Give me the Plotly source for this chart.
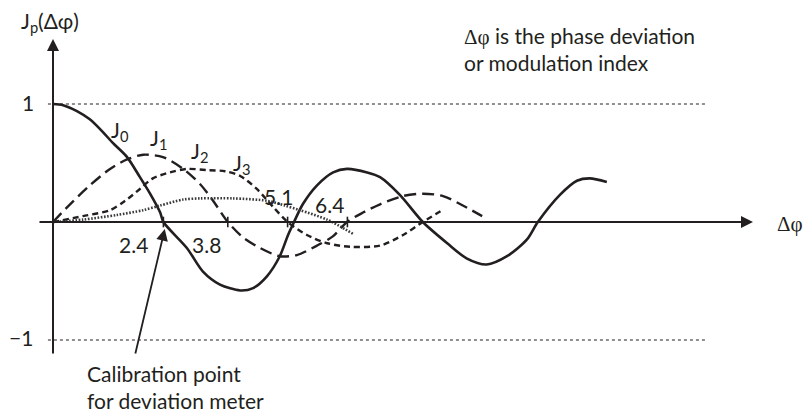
import plotly.graph_objects as go

# Bessel functions of the first kind J0..J3 versus phase deviation
j0_x = [0, 0.22, 0.52, 0.80, 1.09, 1.30, 1.61, 1.89, 2.11, 2.33, 2.4, 2.91, 3.26, 3.63,
        4.07, 4.35, 4.65, 4.93, 5.11, 5.24, 5.43, 5.74, 6.09, 6.39, 6.83, 7.11, 7.54,
        8.04, 8.57, 9.00, 9.43, 9.87, 10.30, 10.54, 11.02, 11.39, 11.67, 12.04]
j0_y = [1.0, 0.99, 0.94, 0.87, 0.76, 0.67, 0.55, 0.38, 0.24, 0.08, 0.0, -0.22, -0.42,
        -0.53, -0.58, -0.56, -0.46, -0.29, -0.11, 0.0, 0.15, 0.31, 0.42, 0.45, 0.42,
        0.38, 0.23, 0.0, -0.18, -0.31, -0.36, -0.29, -0.15, 0.0, 0.23, 0.35, 0.37, 0.34]

j1_x = [0, 0.37, 0.80, 1.24, 1.61, 1.96, 2.39, 2.83, 3.20, 3.48, 3.8, 4.13, 4.50, 4.93,
        5.30, 5.74, 6.09, 6.39, 6.74, 7.11, 7.61, 8.04, 8.48, 8.91, 9.33]
j1_y = [0, 0.15, 0.31, 0.45, 0.53, 0.57, 0.55, 0.45, 0.32, 0.18, 0.0, -0.13, -0.22, -0.29,
        -0.28, -0.20, -0.12, 0.0, 0.08, 0.15, 0.22, 0.24, 0.22, 0.14, 0.05]

j2_x = [0, 0.65, 1.24, 1.57, 1.89, 2.17, 2.54, 2.91, 3.35, 3.74, 4.07, 4.43, 4.78, 5.1,
        5.52, 5.96, 6.46, 7.11, 7.61, 8.04, 8.46]
j2_y = [0, 0.05, 0.10, 0.18, 0.28, 0.37, 0.42, 0.45, 0.44, 0.43, 0.39, 0.28, 0.13, 0.0,
        -0.11, -0.18, -0.21, -0.20, -0.11, 0.0, 0.10]

j3_x = [0, 0.65, 1.39, 1.96, 2.33, 2.83, 3.20, 3.91, 4.65, 5.04, 5.37, 5.96, 6.52]
j3_y = [0, 0.02, 0.06, 0.10, 0.14, 0.19, 0.20, 0.20, 0.18, 0.14, 0.10, 0.02, -0.10]

curve_names = ["J<sub>0</sub>", "J<sub>1</sub>", "J<sub>2</sub>", "J<sub>3</sub>"]

# zero crossings marked on the horizontal axis
tick_vals = [2.4, 3.8, 5.1, 6.4]
tick_text = ["2.4", "3.8", "5.1", "6.4"]

ref_levels = [1, -1]
ref_text = ["1", "\u22121"]

# ---------------------------------------------------------------- drawing
W, H = 804, 412
X_RANGE = [-53 / 46, 751 / 46]
Y_RANGE = [(222 - 412) / 118, 222 / 118]

INK = "#231f20"
SANS = "Lato, 'Open Sans', sans-serif"
SERIF = "'Liberation Serif', 'DejaVu Serif', serif"
FS = 21


def paper_x(px):
    return px / W


def paper_y(py):
    return 1 - py / H


fig = go.Figure()

dashes = ["solid", "12px,6px", "6px,4px", "1.6px,1.6px"]
widths = [2.6, 2.4, 2.4, 2.6]
colors = [INK, INK, INK, "#3a3a3a"]
for xs, ys, name, dash, w, c in zip([j0_x, j1_x, j2_x, j3_x], [j0_y, j1_y, j2_y, j3_y],
                                    curve_names, dashes, widths, colors):
    fig.add_trace(go.Scatter(
        x=xs, y=ys, mode="lines", name=name,
        line=dict(color=c, width=w, dash=dash, shape="spline", smoothing=0.8),
        hoverinfo="skip"))

shapes = []
# dotted guide lines at +1 and -1
for lv in ref_levels:
    shapes.append(dict(type="line", xref="x", yref="y", x0=-0.11, x1=14.22, y0=lv, y1=lv,
                       line=dict(color=INK, width=1, dash="dot")))
# small tick marks across the horizontal axis
for tv in tick_vals:
    shapes.append(dict(type="line", xref="x", yref="y", x0=tv, x1=tv, y0=-0.045, y1=0.045,
                       line=dict(color=INK, width=1.6)))

ann = []
# horizontal axis with arrow
ann.append(dict(x=(753 - 53) / 46, y=0, ax=(38 - 53) / 46, ay=0, xref="x", yref="y",
                axref="x", ayref="y", text="", showarrow=True, arrowhead=2,
                arrowwidth=2, arrowsize=1.2, arrowcolor=INK))
# vertical axis with arrow
ann.append(dict(x=0, y=(222 - 39) / 118, ax=0, ay=(222 - 355) / 118, xref="x", yref="y",
                axref="x", ayref="y", text="", showarrow=True, arrowhead=2,
                arrowwidth=2, arrowsize=1.2, arrowcolor=INK))
# calibration arrow pointing at the first J0 zero
ann.append(dict(x=2.43, y=-0.06, ax=(135 - 53) / 46, ay=(222 - 355) / 118, xref="x",
                yref="y", axref="x", ayref="y", text="", showarrow=True, arrowhead=2,
                arrowwidth=1.8, arrowsize=1.3, arrowcolor=INK))


def label(text, xp, yp, family=SANS):
    return dict(x=paper_x(xp), y=paper_y(yp), xref="paper", yref="paper",
                xanchor="center", yanchor="middle", text=text, showarrow=False,
                font=dict(family=family, size=FS, color=INK))


# tick labels
tick_shift = [(-30, 245), (-21, 245), (-9, 196), (-18, 204)]
for tv, tt, (dx, ypx) in zip(tick_vals, tick_text, tick_shift):
    ann.append(dict(x=tv, y=paper_y(ypx), xref="x", yref="paper", xshift=dx, text=tt,
                    xanchor="center", yanchor="middle", showarrow=False,
                    font=dict(family=SANS, size=FS, color=INK)))

# level labels
for txt, (xp, yp) in zip(ref_text, [(28, 102), (21, 337)]):
    ann.append(label(txt, xp, yp))

# curve labels
for txt, (xp, yp) in zip(curve_names, [(120, 131), (158, 139), (199, 152), (241, 164)]):
    ann.append(label(txt, xp, yp))

# axis titles
ann.append(label("J<sub>p</sub>(\u0394\u03c6)", 50, 22))
ann.append(label("\u0394\u03c6", 790, 224, SERIF))

# notes
ann.append(dict(x=paper_x(462), y=paper_y(48.5), xref="paper", yref="paper",
                xanchor="left", yanchor="middle", align="left", showarrow=False,
                text=("<span style='font-family:Liberation Serif'>\u0394\u03c6</span>"
                      " is the phase deviation<br>or modulation index"),
                font=dict(family=SANS, size=FS, color=INK)))
ann.append(dict(x=paper_x(85), y=paper_y(386.5), xref="paper", yref="paper",
                xanchor="left", yanchor="middle", align="left", showarrow=False,
                text="Calibration point<br>for deviation meter",
                font=dict(family=SANS, size=FS, color=INK)))

fig.update_layout(
    width=W, height=H, margin=dict(l=0, r=0, t=0, b=0),
    paper_bgcolor="white", plot_bgcolor="white", showlegend=False, hovermode=False,
    xaxis=dict(range=X_RANGE, visible=False, fixedrange=True),
    yaxis=dict(range=Y_RANGE, visible=False, fixedrange=True),
    shapes=shapes, annotations=ann,
)

fig.write_html("out.html")
